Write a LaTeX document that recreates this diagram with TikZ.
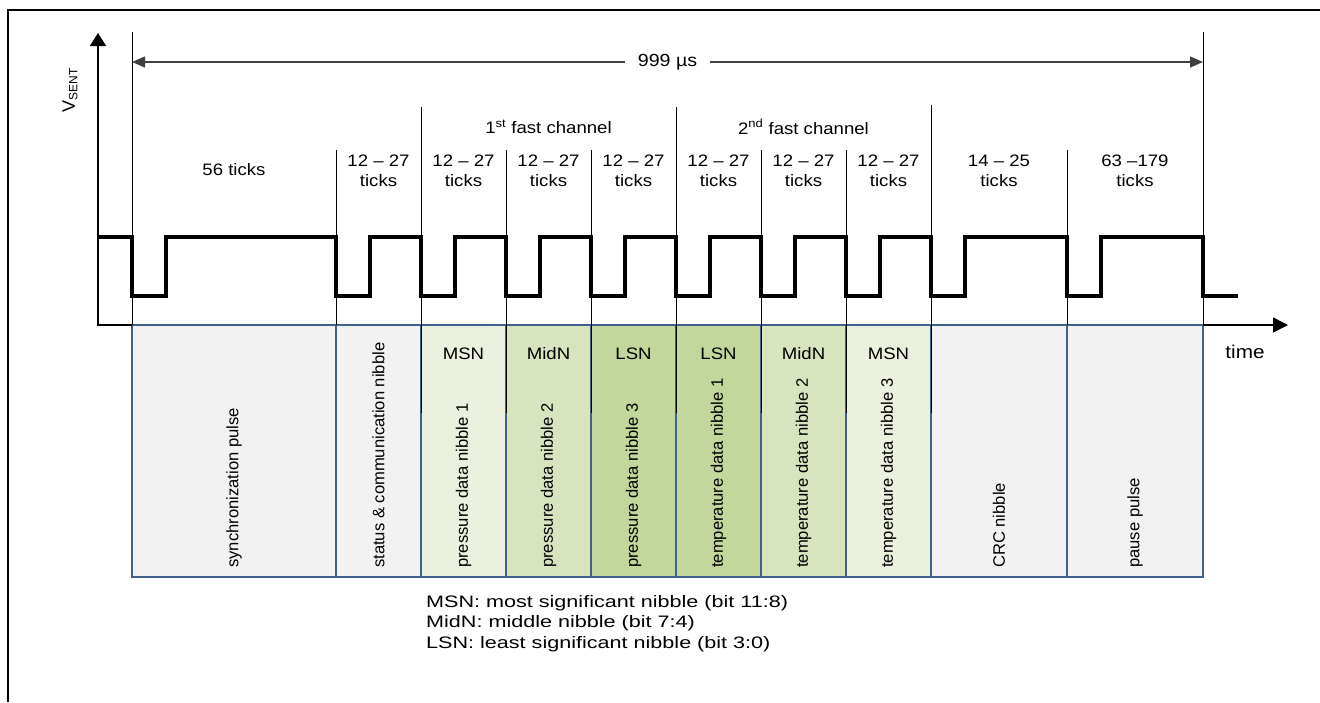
\documentclass[tikz,border=0pt]{standalone}
\usepackage{fontspec}
\setmainfont{Liberation Sans}
\newfontfamily\lblfont[FakeStretch=1.12]{Liberation Sans}
\newfontfamily\legfont[FakeStretch=1.3]{Liberation Sans}
\usetikzlibrary{arrows.meta}
\definecolor{cgray}{HTML}{F2F2F2}
\definecolor{cgA}{HTML}{EBF1DE}
\definecolor{cgB}{HTML}{D7E4BD}
\definecolor{cgC}{HTML}{C3D69B}
\definecolor{tblue}{HTML}{41618C}
\definecolor{dimgray}{HTML}{404040}
\begin{document}
\begin{tikzpicture}[x=1pt,y=-1pt,
  ticklbl/.style={font=\lblfont\fontsize{16.6}{20}\selectfont, align=center, inner sep=0pt},
  rotlbl/.style={rotate=90, anchor=west, font=\fontsize{16.6}{18}\selectfont, inner sep=0pt},
  toplbl/.style={font=\lblfont\fontsize{16.6}{18}\selectfont, inner sep=0pt},
  cellbox/.style={draw=tblue, line width=1.2pt},
  bline/.style={draw=black, line width=1pt},
  wave/.style={draw=black, line width=3.3pt, line join=miter},
  legend/.style={anchor=west, font=\legfont\fontsize{16.6}{18}\selectfont, inner sep=0pt}
]
\useasboundingbox (0,0) rectangle (1320,702);
% frame
\draw[line width=1.2pt] (8,702) -- (8,10) -- (1320,10);

% table cells
\draw[cellbox, fill=cgray] (132,325) rectangle (336,577);
\draw[cellbox, fill=cgray] (336,325) rectangle (421,577);
\draw[cellbox, fill=cgA] (421,325) rectangle (506,577);
\draw[cellbox, fill=cgB] (506,325) rectangle (591,577);
\draw[cellbox, fill=cgC] (591,325) rectangle (676,577);
\draw[cellbox, fill=cgC] (676,325) rectangle (761,577);
\draw[cellbox, fill=cgB] (761,325) rectangle (846,577);
\draw[cellbox, fill=cgA] (846,325) rectangle (931,577);
\draw[cellbox, fill=cgray] (931,325) rectangle (1067,577);
\draw[cellbox, fill=cgray] (1067,325) rectangle (1203,577);

% vertical boundary lines
\draw[bline] (132,32) -- (132,325);
\draw[bline] (336,150) -- (336,325);
\draw[bline] (421,107) -- (421,413);
\draw[bline] (506,150) -- (506,413);
\draw[bline] (591,150) -- (591,413);
\draw[bline] (676,107) -- (676,413);
\draw[bline] (761,150) -- (761,413);
\draw[bline] (846,150) -- (846,413);
\draw[bline] (931,105) -- (931,413);
\draw[bline] (1067,150) -- (1067,325);
\draw[bline] (1203,32) -- (1203,325);

% axes
\coordinate (org) at (98,325);
\coordinate (ytop) at (98,33);
\coordinate (tstart) at (1203,325);
\coordinate (tend) at (1288,325);
\draw[line width=1.6pt, -{Triangle[length=13pt,width=16pt]}] (132,325) -- (org) -- (ytop);
\draw[line width=1.6pt, -{Triangle[length=15pt,width=15pt]}] (tstart) -- (tend);
\node[rotate=90, font=\fontsize{18}{20}\selectfont, inner sep=0pt] (vsent) at (70,90) {V\textsubscript{\fontsize{12}{14}\selectfont SENT}};
\node[font=\lblfont\fontsize{18.5}{20}\selectfont, inner sep=0pt] (time) at (1245,352) {time};

% 999 us arrow
\coordinate (pa) at (132,62);
\coordinate (pb) at (1203,62);
\draw[draw=dimgray, line width=1.4pt, {Triangle[length=13pt,width=11pt]}-{Triangle[length=13pt,width=11pt]}] (pa) -- (pb);
\node[fill=white, inner xsep=13pt, inner ysep=2pt, font=\lblfont\fontsize{17.5}{20}\selectfont] (us) at (667.5,62) {999 µs};

% waveform
\draw[wave] (98,237)
  \foreach \a in {132,336,421,506,591,676,761,846,931,1067} { -- (\a,237) -- (\a,296) -- ({\a+34},296) -- ({\a+34},237) }
  -- (1203,237) -- (1203,296) -- (1238,296);

% top labels
\node[ticklbl] (fc1) at (548.5,127) {1\textsuperscript{st} fast channel};
\node[ticklbl] (fc2) at (803.5,127) {2\textsuperscript{nd} fast channel};
\node[ticklbl] (t0) at (234,170) {56 ticks};
\node[ticklbl] (t1) at (378.5,171) {12 – 27\\ticks};
\node[ticklbl] (t2) at (463.5,171) {12 – 27\\ticks};
\node[ticklbl] (t3) at (548.5,171) {12 – 27\\ticks};
\node[ticklbl] (t4) at (633.5,171) {12 – 27\\ticks};
\node[ticklbl] (t5) at (718.5,171) {12 – 27\\ticks};
\node[ticklbl] (t6) at (803.5,171) {12 – 27\\ticks};
\node[ticklbl] (t7) at (888.5,171) {12 – 27\\ticks};
\node[ticklbl] (t8) at (999,171) {14 – 25\\ticks};
\node[ticklbl] (t9) at (1135,171) {63 –179\\ticks};

% nibble labels
\node[toplbl] (n1) at (463.5,354) {MSN};
\node[toplbl] (n2) at (548.5,354) {MidN};
\node[toplbl] (n3) at (633.5,354) {LSN};
\node[toplbl] (n4) at (718.5,354) {LSN};
\node[toplbl] (n5) at (803.5,354) {MidN};
\node[toplbl] (n6) at (888.5,354) {MSN};

% rotated cell texts
\node[rotlbl] (r0) at (234,568) {synchronization pulse};
\node[rotlbl] (r1) at (378.5,568) {status \& communication nibble};
\node[rotlbl] (r2) at (463.5,568) {pressure data nibble 1};
\node[rotlbl] (r3) at (548.5,568) {pressure data nibble 2};
\node[rotlbl] (r4) at (633.5,568) {pressure data nibble 3};
\node[rotlbl] (r5) at (718.5,568) {temperature data nibble 1};
\node[rotlbl] (r6) at (803.5,568) {temperature data nibble 2};
\node[rotlbl] (r7) at (888.5,568) {temperature data nibble 3};
\node[rotlbl] (r8) at (999,568) {CRC nibble};
\node[rotlbl] (r9) at (1135,568) {pause pulse};

% legend
\node[legend] (l1) at (426,603) {MSN: most significant nibble (bit 11:8)};
\node[legend] (l2) at (426,623.5) {MidN: middle nibble (bit 7:4)};
\node[legend] (l3) at (426,644) {LSN: least significant nibble (bit 3:0)};
\end{tikzpicture}
\end{document}
